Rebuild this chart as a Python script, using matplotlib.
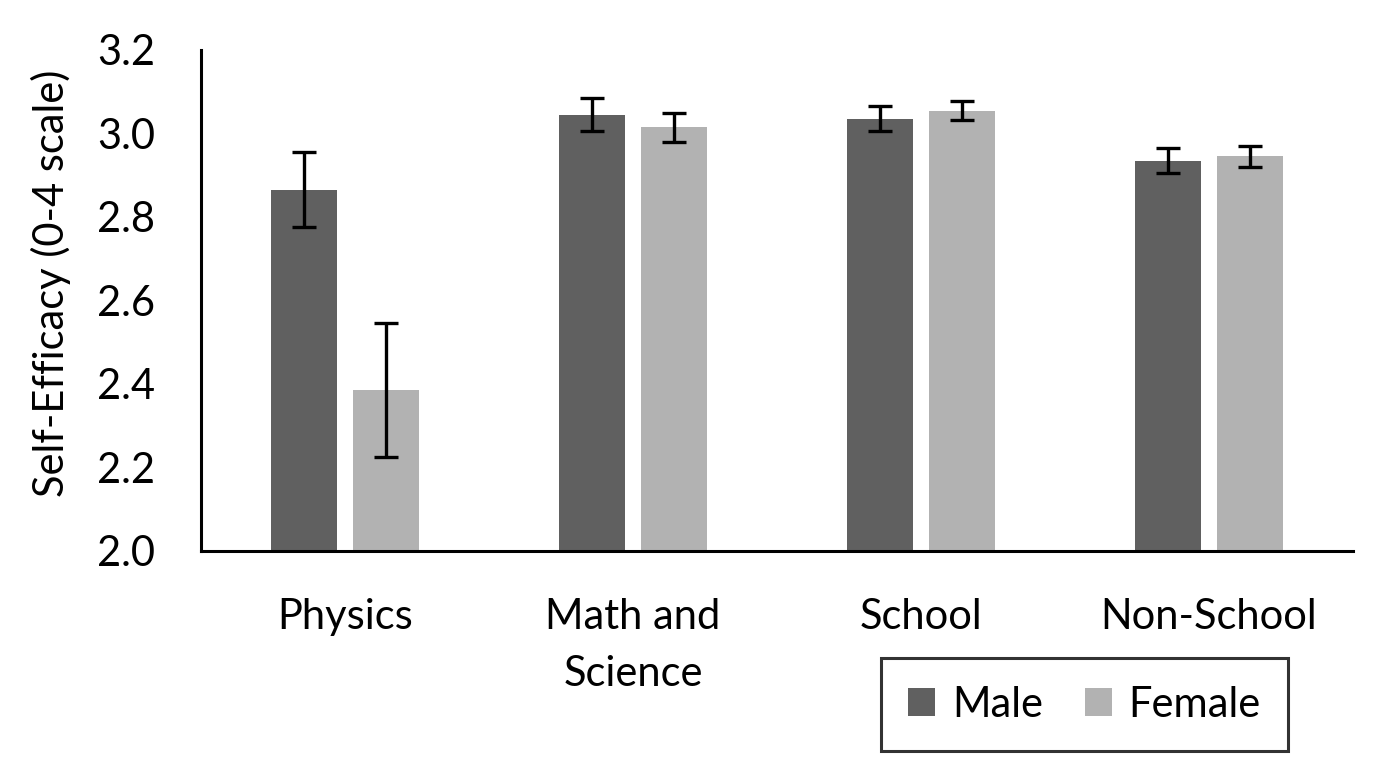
import matplotlib
matplotlib.use("Agg")
import matplotlib.pyplot as plt
import numpy as np

categories = ["Physics", "Math and\nScience", "School", "Non-School"]
male = [2.865, 3.045, 3.035, 2.935]
female = [2.385, 3.015, 3.055, 2.945]
male_err = [0.09, 0.04, 0.03, 0.03]
female_err = [0.16, 0.035, 0.022, 0.025]
yticks = [2.0, 2.2, 2.4, 2.6, 2.8, 3.0, 3.2]

plt.rcParams['font.family'] = ['Lato', 'DejaVu Sans']

fig = plt.figure(figsize=(13.92, 7.76), dpi=100)
ax = fig.add_axes([0.1444, 0.290, 0.8276, 0.6456])

x = np.arange(len(categories))
w = 0.229
off = 0.142
ekw = dict(elinewidth=2.4, capthick=2.4, ecolor='black', capsize=8.5)
ax.bar(x - off, male, w, yerr=male_err, color='#606060', label='Male', error_kw=ekw)
ax.bar(x + off, female, w, yerr=female_err, color='#b2b2b2', label='Female', error_kw=ekw)

fs = 30
ax.set_xlim(-0.5, 3.5)
ax.set_ylim(2.0, 3.2)
ax.set_yticks(yticks)
ax.set_yticklabels([f"{v:.1f}" for v in yticks], fontsize=fs)
ax.set_xticks(x)
ax.set_xticklabels(categories, fontsize=fs, linespacing=1.6)
ax.tick_params(axis='y', length=0, pad=33)
ax.tick_params(axis='x', length=0, pad=34)
ax.set_ylabel("Self-Efficacy (0-4 scale)", fontsize=fs)
ax.yaxis.set_label_coords(-0.113, 0.534)

for s in ['top', 'right']:
    ax.spines[s].set_visible(False)
for s in ['left', 'bottom']:
    ax.spines[s].set_linewidth(2.2)
    ax.spines[s].set_color('black')

leg = fig.legend(loc='center', bbox_to_anchor=(0.779, 0.0921), ncol=2, fontsize=fs,
                 frameon=True, fancybox=False, handlelength=0.65, handleheight=0.65,
                 columnspacing=1.0, handletextpad=0.4, borderpad=0.65)
leg.get_frame().set_edgecolor('black')
leg.get_frame().set_linewidth(2.2)

fig.savefig("out.png", dpi=100)
